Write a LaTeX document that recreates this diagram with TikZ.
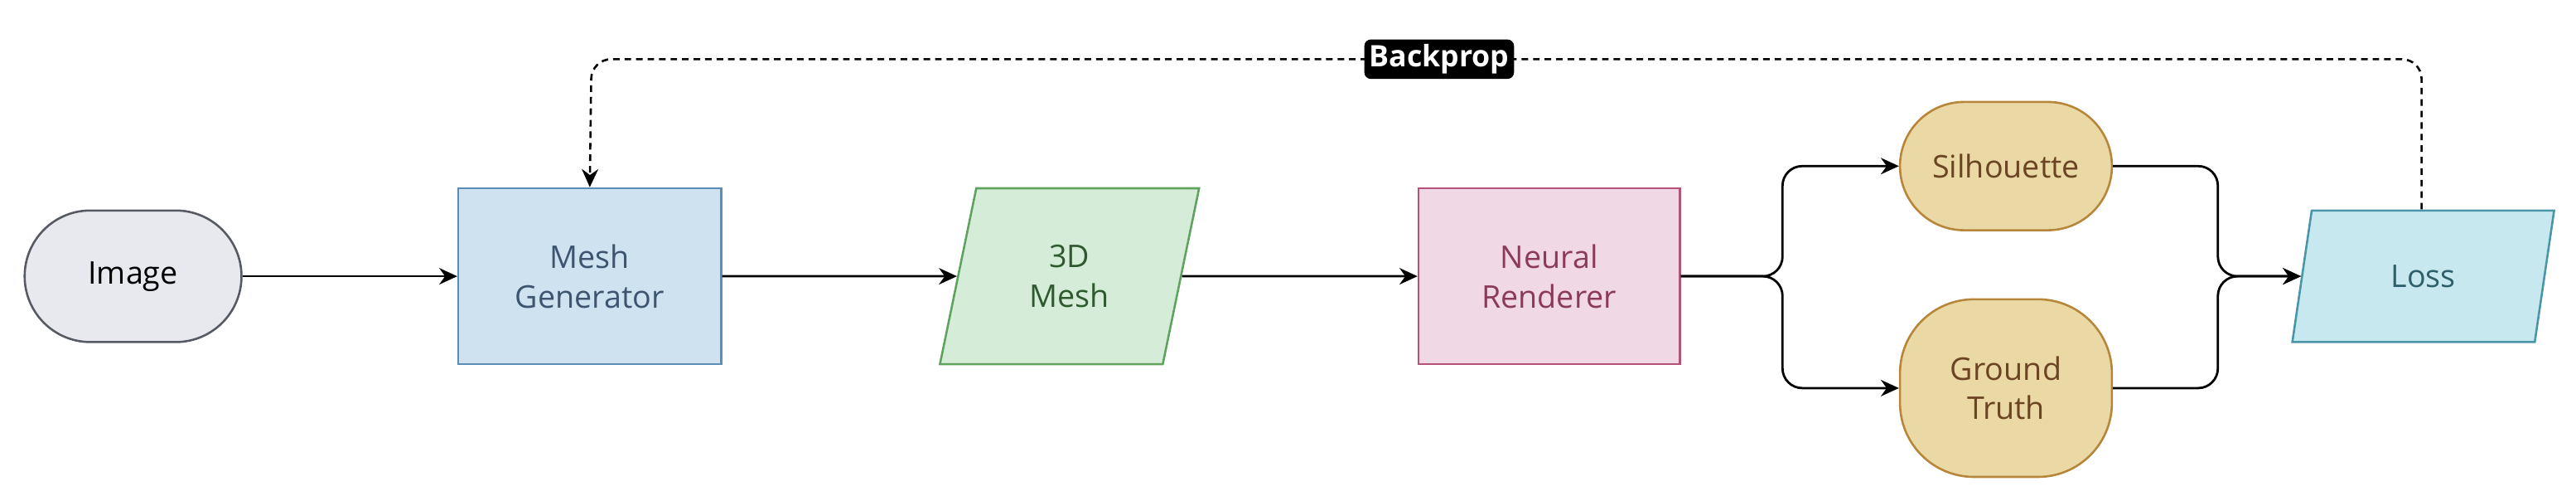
\documentclass[tikz,border=0pt]{standalone}
\usepackage{fontspec}
\setmainfont{Open Sans}
\usetikzlibrary{shapes.geometric,arrows.meta}
\definecolor{imgf}{HTML}{E8E9EE}\definecolor{imgd}{HTML}{555A63}
\definecolor{genf}{HTML}{CFE2F0}\definecolor{gend}{HTML}{5B8DB8}\definecolor{gent}{HTML}{3E5570}
\definecolor{mshf}{HTML}{D5EDD8}\definecolor{mshd}{HTML}{5FA35F}\definecolor{msht}{HTML}{2F5A2F}
\definecolor{renf}{HTML}{F0D8E5}\definecolor{rend}{HTML}{B5527A}\definecolor{rent}{HTML}{8B3A5A}
\definecolor{silf}{HTML}{EAD9A4}\definecolor{sild}{HTML}{B8863B}\definecolor{silt}{HTML}{6B4423}
\definecolor{losf}{HTML}{C8E8EF}\definecolor{losd}{HTML}{4A96A8}\definecolor{lost}{HTML}{2F5F6B}
\begin{document}
\begin{tikzpicture}[x=1pt,y=-1pt,
  base/.style={font=\fontsize{19}{24}\selectfont, align=center, line width=1.3pt, inner sep=0pt},
  stad/.style={base, rounded rectangle},
  para/.style={base, trapezium, trapezium left angle=76, trapezium right angle=104, trapezium stretches=true},
  edge/.style={line width=1.4pt, -{Stealth[length=11pt,width=10pt]}, rounded corners=12pt}]
\useasboundingbox (0,0) rectangle (1568,298.5);
\node[base, draw=imgd, fill=imgf, rounded corners=40pt, minimum width=132, minimum height=80] (img) at (81,168) {Image};
\node[base, draw=gend, fill=genf, text=gent, minimum width=160, minimum height=107] (gen) at (359,168) {Mesh\\Generator};
\node[para, draw=mshd, fill=mshf, text=msht, minimum width=158, minimum height=107] (msh) at (651,168) {3D\\Mesh};
\node[base, draw=rend, fill=renf, text=rent, minimum width=159, minimum height=107] (ren) at (943,168) {Neural\\Renderer};
\node[base, draw=sild, fill=silf, text=silt, rounded corners=39pt, minimum width=129, minimum height=78] (sil) at (1221,101) {Silhouette};
\node[base, draw=sild, fill=silf, text=silt, rounded corners=45pt, minimum width=129, minimum height=108] (gt) at (1221,236) {Ground\\Truth};
\node[para, draw=losd, fill=losf, text=lost, minimum width=160, minimum height=80] (los) at (1475,168) {Loss};
\draw[edge] (img) -- (gen);
\draw[edge] (gen) -- (msh.west);
\draw[edge] (msh.east) -- (ren);
\draw[edge] (ren.east) -- (1085,168) |- (sil.west);
\draw[edge] (ren.east) -- (1085,168) |- (gt.west);
\draw[edge] (sil.east) -- (1350,101) |- (los.west);
\draw[edge] (gt.east) -- (1350,236) |- (los.west);
\draw[edge, dash pattern=on 4pt off 3pt, line width=1.3pt] (los.north -| 1474,0) |- (360,36) -- (gen.north);
\node[fill=black, text=white, font=\fontsize{18}{22}\selectfont\bfseries, rounded corners=4pt, inner sep=3pt] (bp) at (876,36) {Backprop};
\end{tikzpicture}
\end{document}
